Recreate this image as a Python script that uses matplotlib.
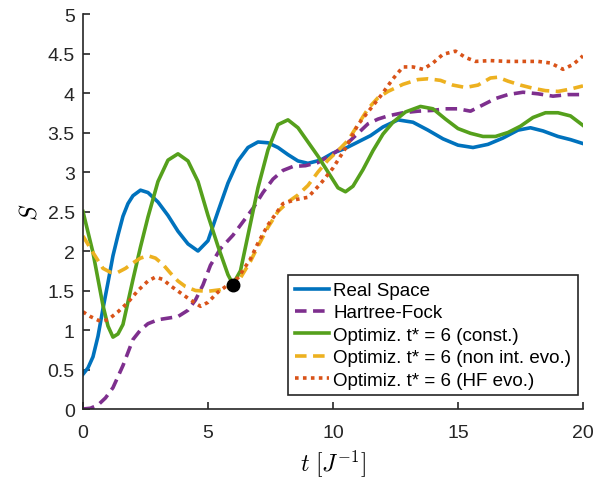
import numpy as np
import matplotlib
matplotlib.use('Agg')
import matplotlib.pyplot as plt

plt.rcParams['font.family'] = ['Liberation Sans', 'DejaVu Sans']
plt.rcParams['mathtext.fontset'] = 'cm'

# Real Space
t_rs = [0, 0.2, 0.4, 0.6, 0.8, 1.0, 1.2, 1.4, 1.6, 1.8, 2.0, 2.3, 2.6, 3.0, 3.4, 3.8, 4.2, 4.6, 5.0,
        5.4, 5.8, 6.2, 6.6, 7.0, 7.4, 7.8, 8.2, 8.6, 9.0, 9.5, 10, 10.5, 11, 11.5, 12, 12.6, 13.2,
        13.8, 14.4, 15, 15.6, 16.2, 16.8, 17.4, 17.9, 18.4, 19, 19.5, 20]
s_rs = [0.44, 0.52, 0.66, 0.92, 1.27, 1.6, 1.94, 2.2, 2.44, 2.6, 2.7, 2.77, 2.74, 2.62, 2.45, 2.25,
        2.09, 2.0, 2.13, 2.5, 2.86, 3.14, 3.31, 3.38, 3.37, 3.31, 3.22, 3.14, 3.11, 3.15, 3.24, 3.3,
        3.38, 3.46, 3.57, 3.66, 3.63, 3.53, 3.42, 3.34, 3.31, 3.35, 3.43, 3.53, 3.56, 3.52, 3.45,
        3.41, 3.36]

# Hartree-Fock
t_hf = [0, 0.3, 0.6, 0.9, 1.2, 1.6, 2.0, 2.3, 2.6, 3.0, 3.4, 3.8, 4.2, 4.5, 4.8, 5.1, 5.5, 6.0,
        6.4, 6.8, 7.2, 7.6, 8.0, 8.4, 8.9, 9.4, 10, 10.5, 11, 11.4, 11.8, 12.2, 12.8, 13.4, 14,
        14.5, 15, 15.5, 16, 16.5, 17, 17.6, 18.2, 18.8, 19.4, 20]
s_hf = [0, 0.01, 0.05, 0.14, 0.27, 0.55, 0.88, 1.0, 1.08, 1.13, 1.15, 1.17, 1.25, 1.38, 1.57, 1.82,
        2.03, 2.2, 2.37, 2.54, 2.74, 2.91, 3.02, 3.07, 3.08, 3.12, 3.23, 3.34, 3.49, 3.61, 3.67,
        3.71, 3.75, 3.77, 3.78, 3.8, 3.8, 3.77, 3.85, 3.93, 3.98, 4.01, 3.99, 3.96, 3.98, 3.98]

# Optimiz. const.
t_c = [0, 0.4, 0.8, 1.0, 1.2, 1.4, 1.6, 2.0, 2.3, 2.6, 3.0, 3.4, 3.8, 4.2, 4.6, 5.0, 5.4, 5.8, 6.0,
       6.3, 6.6, 7.0, 7.4, 7.8, 8.2, 8.6, 9.0, 9.4, 9.8, 10.2, 10.5, 10.8, 11.2, 11.6, 12.0, 12.4,
       12.9, 13.5, 14.0, 14.5, 15.0, 15.5, 16.0, 16.5, 17.0, 17.5, 18, 18.5, 19, 19.5, 20]
s_c = [2.5, 1.98, 1.31, 1.05, 0.91, 0.95, 1.07, 1.64, 2.05, 2.43, 2.88, 3.15, 3.23, 3.14, 2.88,
       2.45, 2.06, 1.7, 1.58, 1.75, 2.2, 2.8, 3.28, 3.6, 3.66, 3.56, 3.38, 3.2, 3.0, 2.8, 2.75,
       2.82, 3.03, 3.27, 3.48, 3.63, 3.76, 3.83, 3.8, 3.67, 3.55, 3.49, 3.45, 3.45, 3.5, 3.58,
       3.69, 3.75, 3.75, 3.71, 3.59]

# Optimiz. non int. evo.
t_ni = [0, 0.4, 0.8, 1.1, 1.4, 1.7, 2.0, 2.3, 2.6, 2.9, 3.2, 3.5, 3.8, 4.1, 4.5, 5.0, 5.5, 6.0,
        6.3, 6.7, 7.0, 7.4, 7.8, 8.2, 8.6, 9.0, 9.4, 9.8, 10.2, 10.6, 11.0, 11.4, 11.8, 12.2,
        12.8, 13.4, 13.8, 14.3, 14.8, 15.3, 15.8, 16.3, 16.6, 17.0, 17.5, 18.0, 18.5, 19.0,
        19.5, 20]
s_ni = [2.19, 1.98, 1.78, 1.73, 1.73, 1.78, 1.85, 1.91, 1.94, 1.91, 1.83, 1.72, 1.62, 1.55, 1.5,
        1.49, 1.51, 1.56, 1.66, 1.87, 2.06, 2.3, 2.5, 2.62, 2.71, 2.83, 3.0, 3.15, 3.27, 3.4, 3.6,
        3.8, 3.94, 4.02, 4.11, 4.17, 4.18, 4.16, 4.1, 4.07, 4.1, 4.19, 4.2, 4.15, 4.1, 4.06, 4.03,
        4.02, 4.05, 4.09]

# Optimiz. HF evo.
t_he = [0, 0.3, 0.7, 1.0, 1.4, 1.8, 2.2, 2.6, 2.9, 3.2, 3.5, 3.9, 4.3, 4.7, 5.0, 5.4, 5.8, 6.2,
        6.7, 7.0, 7.4, 8.0, 8.5, 9.0, 9.5, 10.0, 10.5, 11.0, 11.5, 11.9, 12.4, 12.8, 13.2, 13.6,
        14.0, 14.4, 14.9, 15.3, 15.7, 16.3, 17.0, 17.6, 18.2, 18.7, 19.2, 19.6, 20]
s_he = [1.23, 1.17, 1.11, 1.13, 1.23, 1.35, 1.5, 1.62, 1.67, 1.64, 1.56, 1.47, 1.38, 1.3, 1.35,
        1.48, 1.57, 1.66, 1.9, 2.1, 2.33, 2.6, 2.65, 2.68, 2.85, 3.05, 3.3, 3.6, 3.8, 3.96, 4.18,
        4.33, 4.33, 4.3, 4.38, 4.49, 4.53, 4.45, 4.4, 4.41, 4.4, 4.4, 4.4, 4.38, 4.3, 4.36, 4.47]

t_star = 6
s_star = 1.57

fig = plt.figure(figsize=(6.03, 4.81), dpi=100)
ax = fig.add_axes([0.1376, 0.1476, 0.8292, 0.8212])

lw = 2.6
ax.plot(t_rs, s_rs, color='#0072BD', lw=lw, label='Real Space')
ax.plot(t_hf, s_hf, color='#7E2F8E', lw=lw, dashes=(3.2, 1.8), label='Hartree-Fock')
ax.plot(t_c, s_c, color='#55A01C', lw=lw, label='Optimiz. t* = 6 (const.)')
ax.plot(t_ni, s_ni, color='#EDB120', lw=lw, dashes=(3.2, 1.8), label='Optimiz. t* = 6 (non int. evo.)')
ax.plot(t_he, s_he, color='#D95319', lw=lw, dashes=(1.0, 1.2), label='Optimiz. t* = 6 (HF evo.)')
ax.plot([t_star], [s_star], 'o', color='black', ms=9, zorder=5)

ax.set_xlim(0, 20)
ax.set_ylim(0, 5)
ax.set_xticks([0, 5, 10, 15, 20])
ax.set_yticks(np.arange(0, 5.01, 0.5))
ax.set_yticklabels(['0', '0.5', '1', '1.5', '2', '2.5', '3', '3.5', '4', '4.5', '5'])

for side in ['top', 'right']:
    ax.spines[side].set_visible(False)
for side in ['left', 'bottom']:
    ax.spines[side].set_color('#262626')
    ax.spines[side].set_linewidth(1.2)
ax.tick_params(direction='in', length=5, width=1.2, colors='#262626', labelsize=14, pad=6)
ax.tick_params(axis='x', pad=11)

ax.set_xlabel(r'$t\ [J^{-1}]$', fontsize=17, labelpad=4)
ax.set_ylabel(r'$S$', fontsize=17)

leg = ax.legend(loc='lower right', bbox_to_anchor=(0.99, 0.035), borderaxespad=0,
                fontsize=13.5, handlelength=1.8, handletextpad=0.25, labelspacing=0.28,
                fancybox=False, framealpha=1, edgecolor='#262626', borderpad=0.35)
leg.get_frame().set_linewidth(1.2)

plt.savefig('out.png', dpi=100)
